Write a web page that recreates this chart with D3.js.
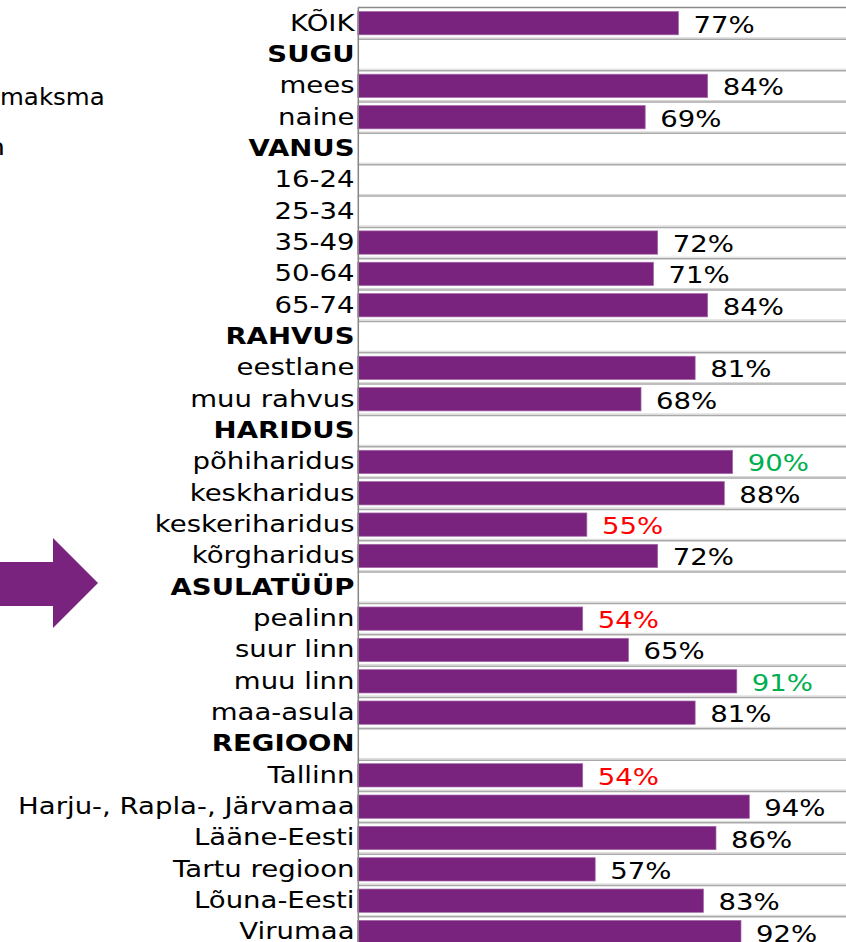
<!DOCTYPE html>
<html>
<head>
<meta charset="utf-8">
<script src="https://cdnjs.cloudflare.com/ajax/libs/d3/7.8.5/d3.min.js"></script>
<style>
  body { margin: 0; background: #fff; }
  svg { display: block; }
</style>
</head>
<body>
<script>
// categories top to bottom, group headers have no value
var categories = ["KÕIK", "SUGU", "mees", "naine", "VANUS", "16-24", "25-34", "35-49", "50-64", "65-74",
    "RAHVUS", "eestlane", "muu rahvus", "HARIDUS", "põhiharidus", "keskharidus", "keskeriharidus", "kõrgharidus",
    "ASULATÜÜP", "pealinn", "suur linn", "muu linn", "maa-asula",
    "REGIOON", "Tallinn", "Harju-, Rapla-, Järvamaa", "Lääne-Eesti", "Tartu regioon", "Lõuna-Eesti", "Virumaa"];
var headers = ["SUGU", "VANUS", "RAHVUS", "HARIDUS", "ASULATÜÜP", "REGIOON"];
var values = [77, null, 84, 69, null, null, null, 72, 71, 84,
    null, 81, 68, null, 90, 88, 55, 72,
    null, 54, 65, 91, 81,
    null, 54, 94, 86, 57, 83, 92];
// significance mark: 1 = above average, -1 = below average
var signif = [0, 0, 0, 0, 0, 0, 0, 0, 0, 0,
    0, 0, 0, 0, 1, 0, -1, 0,
    0, -1, 0, 1, 0,
    0, -1, 0, 0, 0, 0, 0];
var sideText = ["maksma", "n"];

var W = 846, H = 942;
var stretch = 1.225;      // the chart is wider than tall
var fontSize = 22.5;
var font = "'DejaVu Sans', Verdana, sans-serif";
var purple = "#79237e";
var axisX = 357.8;

var svg = d3.select("body").append("svg").attr("width", W).attr("height", H);

var data = categories.map(function (c, i) {
    return {name: c, value: values[i], sig: signif[i]};
});

var y = d3.scaleBand()
    .domain(categories)
    .range([7.5, 947.7])
    .paddingInner(0.256)
    .paddingOuter(0.128);

var x = d3.scaleLinear().domain([0, 100]).range([axisX, axisX + 416.5]);

// row separators
var bounds = d3.range(1, categories.length);
svg.append("g").selectAll("line")
    .data(bounds)
    .enter().append("line")
    .attr("x1", axisX).attr("x2", W)
    .attr("y1", function (i) { return 7.5 + i * y.step() - 1; })
    .attr("y2", function (i) { return 7.5 + i * y.step() - 1; })
    .attr("stroke", "#d6d6d6").attr("stroke-width", 1);
svg.append("g").selectAll("line")
    .data(bounds)
    .enter().append("line")
    .attr("x1", axisX).attr("x2", W)
    .attr("y1", function (i) { return 7.5 + i * y.step() + 0.5; })
    .attr("y2", function (i) { return 7.5 + i * y.step() + 0.5; })
    .attr("stroke", "#a9a9a9").attr("stroke-width", 1.5);
svg.append("line")
    .attr("x1", axisX).attr("x2", W).attr("y1", 7.5).attr("y2", 7.5)
    .attr("stroke", "#8a8a8a").attr("stroke-width", 1.5);

// bars
var withValue = data.filter(function (d) { return d.value != null; });
svg.append("g").selectAll("rect")
    .data(withValue)
    .enter().append("rect")
    .attr("x", x(0))
    .attr("y", function (d) { return y(d.name); })
    .attr("width", function (d) { return x(d.value) - x(0); })
    .attr("height", y.bandwidth())
    .attr("fill", purple)
    .attr("stroke", "#a46aa8")
    .attr("stroke-width", 0.7);

// value labels
svg.append("g").selectAll("text")
    .data(withValue)
    .enter().append("text")
    .attr("transform", function (d) {
        return "translate(" + (x(d.value) + 15) + "," + (y(d.name) + y.bandwidth() / 2 + 9.5) + ") scale(" + stretch + ",1)";
    })
    .attr("font-family", font)
    .attr("font-size", fontSize)
    .attr("fill", function (d) { return d.sig > 0 ? "#00b050" : d.sig < 0 ? "#ff0000" : "#000"; })
    .text(function (d) { return d.value + "%"; });

// category axis
var axis = svg.append("g")
    .attr("transform", "translate(" + axisX + ",0)")
    .call(d3.axisLeft(y).tickSize(0).tickSizeOuter(0).tickPadding(0));
axis.select(".domain").attr("stroke", "#868686").attr("stroke-width", 1.5);
axis.attr("font-family", font).attr("font-size", fontSize);
axis.selectAll(".tick text")
    .attr("x", -3.3 / stretch)
    .attr("dy", "0.33em")
    .attr("fill", "#000")
    .attr("transform", "scale(" + stretch + ",1)")
    .attr("font-weight", function (d) { return headers.indexOf(d) >= 0 ? "bold" : "normal"; });

// text and arrow left of the chart (cut off in the original)
svg.append("text")
    .attr("transform", "translate(0,105) scale(1.09,1)")
    .attr("font-family", font)
    .attr("font-size", fontSize)
    .text(sideText[0]);
svg.append("text")
    .attr("transform", "translate(5,155) scale(" + stretch + ",1)")
    .attr("text-anchor", "end")
    .attr("font-family", font)
    .attr("font-size", fontSize)
    .text(sideText[1]);

svg.append("path")
    .attr("d", "M-2,562L53,562L53,538L98,583L53,628L53,606L-2,606Z")
    .attr("fill", purple);
</script>
</body>
</html>
